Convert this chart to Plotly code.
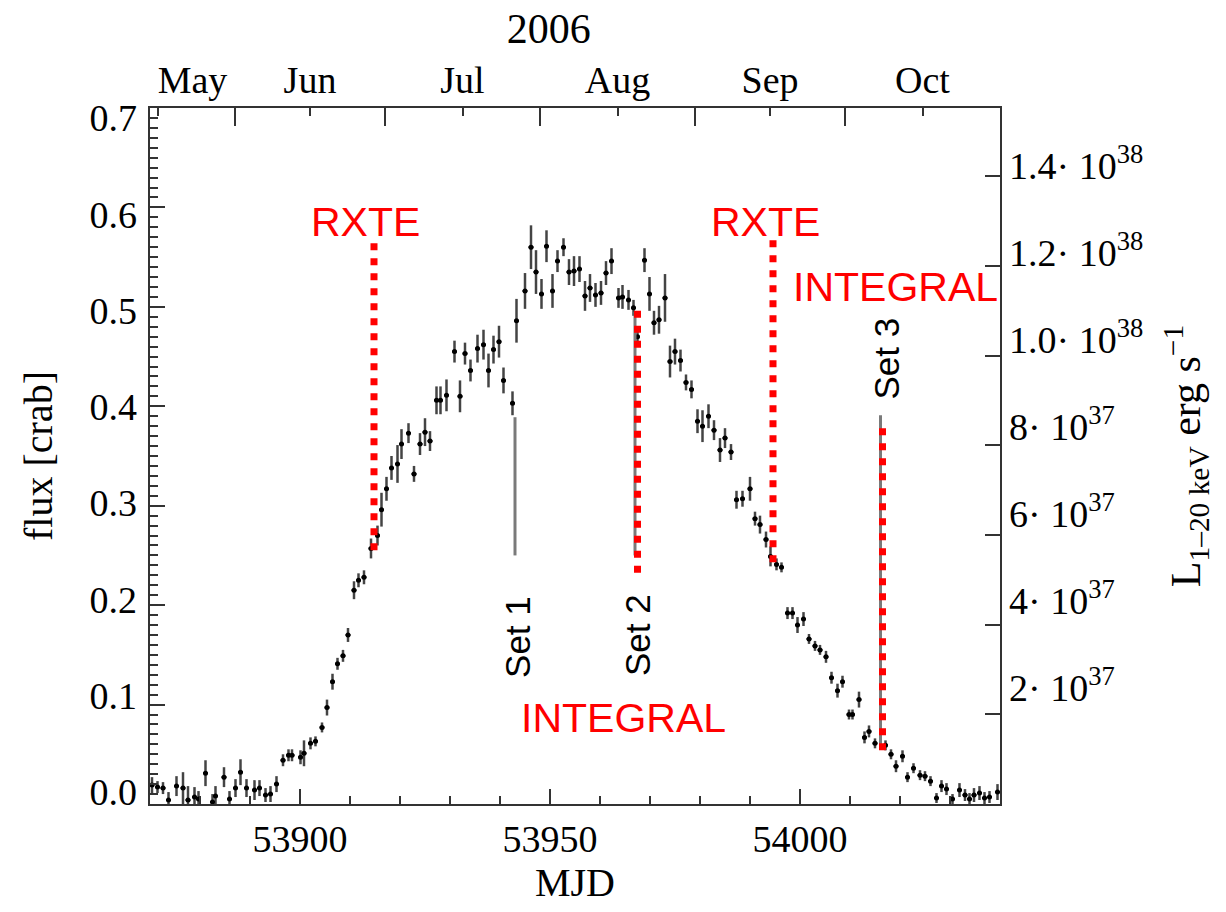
import plotly.graph_objects as go

# Light curve: MJD, flux [crab] and 1-sigma errors
mjd = [
    53870.4, 53871.5, 53872.6, 53873.7, 53875.3, 53876.6, 53877.6, 53878.9, 53879.7, 53881.1,
    53882.5, 53883.1, 53884.8, 53885.9, 53887.1, 53888.1, 53889.3, 53890.9, 53891.9, 53893.1,
    53894.1, 53895.3, 53896.6, 53897.7, 53898.4, 53900.1, 53900.8, 53902.1, 53903.1, 53904.4,
    53905.4, 53906.5, 53907.5, 53908.6, 53909.6, 53910.8, 53911.7, 53912.8, 53914.2, 53915.5,
    53916.3, 53917.3, 53918.3, 53919.5, 53920.3, 53921.7, 53922.8, 53924.0, 53925.0, 53926.0,
    53927.3, 53928.1, 53929.3, 53930.9, 53932.0, 53933.0, 53934.1, 53935.5, 53936.7, 53937.7,
    53938.7, 53939.8, 53940.7, 53942.5, 53943.3, 53945.0, 53946.2, 53947.2, 53948.3, 53949.3,
    53950.5, 53951.5, 53952.7, 53953.8, 53954.8, 53955.9, 53957.0, 53958.0, 53959.1, 53960.2,
    53961.2, 53962.3, 53963.7, 53964.5, 53965.7, 53966.7, 53967.5, 53968.9, 53969.9, 53970.8,
    53971.8, 53973.0, 53974.0, 53975.0, 53976.1, 53977.2, 53978.3, 53979.5, 53980.5, 53981.7,
    53982.8, 53984.0, 53985.0, 53986.2, 53987.3, 53988.5, 53990.0, 53991.0, 53992.0, 53993.2,
    53994.1, 53995.3, 53996.3, 53997.5, 53998.5, 53999.5, 54000.7, 54001.8, 54003.0, 54004.0,
    54005.2, 54006.3, 54007.5, 54008.5, 54009.8, 54010.5, 54011.8, 54012.9, 54013.8, 54015.0,
    54017.1, 54018.2, 54019.2, 54020.5, 54021.5, 54022.7, 54024.0, 54025.0, 54026.1, 54027.3,
    54028.3, 54029.3, 54030.5, 54031.9, 54033.0, 54033.9, 54034.8, 54035.9, 54036.9, 54037.9,
    54039.5,
]
flux = [
    0.019, 0.017, 0.016, 0.004, 0.018, 0.016, 0.004, 0.007, 0.005, 0.031,
    0.002, 0.008, 0.027, 0.005, 0.016, 0.032, 0.016, 0.014, 0.016, 0.009,
    0.010, 0.020, 0.044, 0.049, 0.049, 0.047, 0.051, 0.061, 0.063, 0.077,
    0.097, 0.123, 0.141, 0.149, 0.170, 0.215, 0.225, 0.228, 0.257, 0.270,
    0.296, 0.317, 0.338, 0.342, 0.362, 0.373, 0.332, 0.362, 0.374, 0.365,
    0.406, 0.406, 0.411, 0.455, 0.410, 0.453, 0.436, 0.458, 0.462, 0.436,
    0.457, 0.465, 0.426, 0.403, 0.486, 0.516, 0.560, 0.535, 0.513, 0.561,
    0.516, 0.546, 0.560, 0.535, 0.536, 0.538, 0.511, 0.519, 0.512, 0.514,
    0.534, 0.546, 0.509, 0.510, 0.507, 0.499, 0.470, 0.547, 0.513, 0.484,
    0.487, 0.509, 0.445, 0.455, 0.446, 0.424, 0.417, 0.385, 0.380, 0.390,
    0.376, 0.356, 0.368, 0.354, 0.306, 0.307, 0.317, 0.287, 0.281, 0.266,
    0.249, 0.241, 0.238, 0.192, 0.192, 0.180, 0.186, 0.166, 0.159, 0.155,
    0.148, 0.127, 0.114, 0.123, 0.090, 0.090, 0.105, 0.067, 0.073, 0.061,
    0.059, 0.050, 0.038, 0.048, 0.027, 0.036, 0.029, 0.028, 0.023, 0.006,
    0.018, 0.015, 0.005, 0.014, 0.009, 0.005, 0.009, 0.011, 0.006, 0.007,
    0.012,
]
flux_err = [
    0.008, 0.006, 0.006, 0.008, 0.010, 0.016, 0.014, 0.010, 0.008, 0.013,
    0.008, 0.010, 0.010, 0.008, 0.009, 0.013, 0.009, 0.010, 0.008, 0.007,
    0.008, 0.008, 0.006, 0.006, 0.006, 0.007, 0.013, 0.006, 0.005, 0.005,
    0.008, 0.008, 0.006, 0.006, 0.007, 0.009, 0.007, 0.007, 0.010, 0.010,
    0.017, 0.012, 0.012, 0.019, 0.015, 0.010, 0.008, 0.011, 0.014, 0.010,
    0.014, 0.014, 0.016, 0.011, 0.016, 0.011, 0.011, 0.014, 0.015, 0.017,
    0.014, 0.016, 0.013, 0.012, 0.022, 0.018, 0.022, 0.022, 0.015, 0.016,
    0.017, 0.011, 0.009, 0.013, 0.015, 0.013, 0.015, 0.014, 0.012, 0.012,
    0.012, 0.013, 0.010, 0.012, 0.010, 0.008, 0.010, 0.012, 0.017, 0.012,
    0.014, 0.024, 0.016, 0.013, 0.011, 0.008, 0.009, 0.012, 0.016, 0.012,
    0.010, 0.012, 0.010, 0.008, 0.009, 0.008, 0.012, 0.007, 0.009, 0.008,
    0.010, 0.006, 0.005, 0.006, 0.006, 0.008, 0.007, 0.005, 0.005, 0.005,
    0.006, 0.006, 0.007, 0.006, 0.005, 0.005, 0.008, 0.006, 0.006, 0.005,
    0.005, 0.005, 0.006, 0.006, 0.005, 0.005, 0.005, 0.005, 0.005, 0.005,
    0.006, 0.006, 0.005, 0.007, 0.006, 0.006, 0.007, 0.007, 0.006, 0.006,
    0.008,
]

# Luminosity (1e37 erg/s, 1-20 keV) per crab of flux
lum_per_crab = 22.18

# Observation windows (red dotted): RXTE / INTEGRAL
window_mjd = [53914.8, 53967.5, 53994.6, 54016.5]
window_top = [0.564, 0.496, 0.567, 0.378]
window_bottom = [0.250, 0.225, 0.240, 0.049]

# Spectral data sets (grey markers)
set_mjd = [53943.0, 53967.0, 54016.1]
set_top = [0.389, 0.495, 0.391]
set_bottom = [0.250, 0.250, 0.057]
set_labels = ["Set 1", "Set 2", "Set 3"]
set_label_mjd = [53943.6, 53967.6, 54017.4]
set_label_flux = [0.168, 0.170, 0.448]

instrument_labels = ["RXTE", "RXTE", "INTEGRAL", "INTEGRAL"]
instrument_mjd = [53913.0, 53993.0, 53998.2, 53964.6]
instrument_flux = [0.585, 0.585, 0.520, 0.087]
instrument_anchor = ["center", "center", "left", "center"]

# Calendar axis (2006)
month_starts = [53887, 53917, 53948, 53979, 54009, 54040]
month_mids = [53871.5, 53902, 53932.5, 53963.5, 53994, 54024.5]
month_label_pos = [53878.5, 53902, 53932.5, 53963.5, 53994, 54024.5]
month_names = ["May", "Jun", "Jul", "Aug", "Sep", "Oct"]

mjd_ticks = [53900, 53950, 54000]
flux_ticks = [0.0, 0.1, 0.2, 0.3, 0.4, 0.5, 0.6, 0.7]
lum_ticks = [2, 4, 6, 8, 10, 12, 14]
lum_text = [
    "2· 10<sup>37</sup>", "4· 10<sup>37</sup>", "6· 10<sup>37</sup>", "8· 10<sup>37</sup>",
    "1.0· 10<sup>38</sup>", "1.2· 10<sup>38</sup>", "1.4· 10<sup>38</sup>",
]

x_range = [53870, 54040]
y_range = [0, 0.7]
lum_range = [y_range[0] * lum_per_crab, y_range[1] * lum_per_crab]
# label rows sit slightly inside the frame (text kept within the plot height)
flux_label_range = [-0.0125, 0.7104]
lum_label_range = [-0.667, 15.33]

SERIF = "Liberation Serif"
SANS = "Liberation Sans"
AXIS_COLOR = "#333333"

fig = go.Figure()

fig.add_trace(go.Scatter(
    x=mjd, y=flux, mode="markers",
    marker=dict(color="black", size=5),
    error_y=dict(type="data", array=flux_err, color="#444444", thickness=2.5, width=0),
    error_x=dict(type="constant", value=0.5, color="#222222", thickness=2, width=0),
    showlegend=False, hoverinfo="x+y",
))

for xv, top, bot in zip(set_mjd, set_top, set_bottom):
    fig.add_trace(go.Scatter(
        x=[xv, xv], y=[top, bot], mode="lines",
        line=dict(color="#7a7a7a", width=3), showlegend=False, hoverinfo="skip",
    ))

for xv, top, bot in zip(window_mjd, window_top, window_bottom):
    fig.add_trace(go.Scatter(
        x=[xv, xv], y=[top, bot], mode="lines",
        line=dict(color="#ff0000", width=7, dash="7px,8px"), showlegend=False, hoverinfo="skip",
    ))

# helper traces so the secondary axes are registered
for xa, ya in [("x2", "y"), ("x3", "y"), ("x", "y2"), ("x", "y3"), ("x", "y4")]:
    fig.add_trace(go.Scatter(x=[None], y=[None], xaxis=xa, yaxis=ya,
                             showlegend=False, hoverinfo="skip"))

for txt, xv, yv in zip(set_labels, set_label_mjd, set_label_flux):
    fig.add_annotation(x=xv, y=yv, xref="x", yref="y", text=txt, textangle=-90,
                       showarrow=False, font=dict(family=SANS, size=35, color="black"))

for txt, xv, yv, anc in zip(instrument_labels, instrument_mjd, instrument_flux, instrument_anchor):
    fig.add_annotation(x=xv, y=yv, xref="x", yref="y", text=txt, xanchor=anc,
                       showarrow=False, font=dict(family=SANS, size=41, color="#ff0000"))

tick_font = dict(family=SERIF, size=38, color="black")
title_font = dict(family=SERIF, size=40, color="black")

fig.update_layout(
    width=1226, height=912,
    margin=dict(l=150, r=226, t=108, b=108),
    paper_bgcolor="white", plot_bgcolor="white",
    showlegend=False,
    title=dict(text="2006", x=575 / 1226, xanchor="center", xref="paper",
               y=1 - 28 / 912, yanchor="middle", yref="container",
               font=dict(family=SERIF, size=42, color="black")),
    xaxis=dict(
        range=x_range, tickmode="array", tickvals=mjd_ticks, ticktext=[str(v) for v in mjd_ticks],
        ticks="inside", ticklen=15, tickwidth=2, tickcolor=AXIS_COLOR,
        minor=dict(tickmode="linear", tick0=53870, dtick=10, ticks="inside", ticklen=8,
                   tickwidth=2, tickcolor=AXIS_COLOR),
        showline=True, linecolor=AXIS_COLOR, linewidth=2, showgrid=False, zeroline=False,
        tickfont=tick_font,
        title=dict(text="MJD", font=title_font, standoff=6),
    ),
    xaxis2=dict(
        overlaying="x", side="top", anchor="y", range=x_range,
        tickmode="array", tickvals=month_starts, ticktext=[""] * len(month_starts),
        ticks="inside", ticklen=18, tickwidth=2, tickcolor=AXIS_COLOR,
        minor=dict(tickmode="array", tickvals=month_mids, ticks="inside", ticklen=8,
                   tickwidth=2, tickcolor=AXIS_COLOR),
        showline=True, linecolor=AXIS_COLOR, linewidth=2, showgrid=False, zeroline=False,
    ),
    xaxis3=dict(
        overlaying="x", side="top", anchor="y", range=x_range,
        tickmode="array", tickvals=month_label_pos, ticktext=month_names,
        ticks="", showline=False, showgrid=False, zeroline=False,
        tickfont=tick_font, ticklabelstandoff=6,
    ),
    # flux axis: frame line and tick marks
    yaxis=dict(
        range=y_range, tickmode="array", tickvals=flux_ticks, showticklabels=False,
        ticks="inside", ticklen=15, tickwidth=2, tickcolor=AXIS_COLOR,
        minor=dict(tickmode="linear", tick0=0, dtick=0.01, ticks="inside", ticklen=8,
                   tickwidth=2, tickcolor=AXIS_COLOR),
        showline=True, linecolor=AXIS_COLOR, linewidth=2, showgrid=False, zeroline=False,
    ),
    # flux axis: tick labels and title
    yaxis3=dict(
        overlaying="y", side="left", anchor="x", range=flux_label_range,
        tickmode="array", tickvals=flux_ticks, ticktext=[f"{v:.1f}" for v in flux_ticks],
        ticks="", showline=False, showgrid=False, zeroline=False,
        tickfont=tick_font, ticklabelstandoff=12,
        title=dict(text="flux [crab]", font=title_font, standoff=24),
    ),
    # luminosity axis: frame line and tick marks
    yaxis2=dict(
        overlaying="y", side="right", anchor="x", range=lum_range,
        tickmode="array", tickvals=lum_ticks, showticklabels=False,
        ticks="inside", ticklen=15, tickwidth=2, tickcolor=AXIS_COLOR,
        showline=True, linecolor=AXIS_COLOR, linewidth=2, showgrid=False, zeroline=False,
    ),
    # luminosity axis: tick labels and title
    yaxis4=dict(
        overlaying="y", side="right", anchor="x", range=lum_label_range,
        tickmode="array", tickvals=lum_ticks, ticktext=lum_text,
        ticks="", showline=False, showgrid=False, zeroline=False,
        tickfont=tick_font, ticklabelstandoff=8,
        title=dict(text="L<sub>1–20 keV</sub> erg s<sup>−1</sup>",
                   font=dict(family=SERIF, size=42, color="black"), standoff=28),
    ),
)

fig.write_html("out.html")
